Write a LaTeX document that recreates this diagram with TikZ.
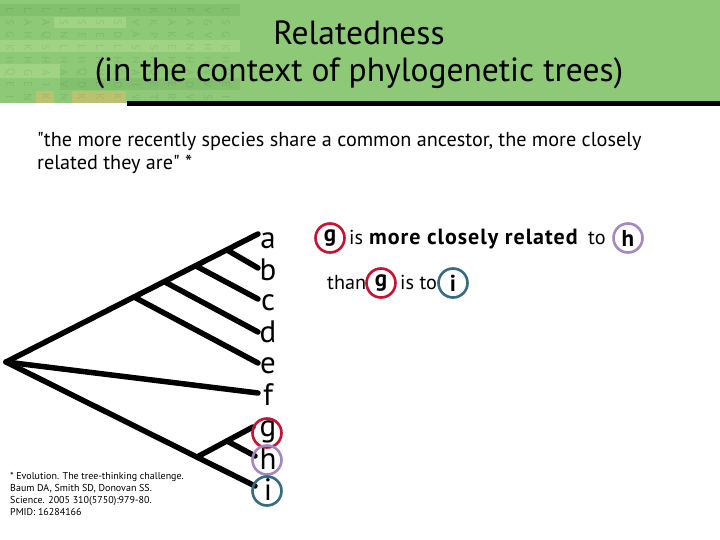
\documentclass[tikz,border=0pt]{standalone}
\usepackage{fontspec}
\setmainfont{PT Sans}
\definecolor{band}{RGB}{141,201,118}
\definecolor{bandlight}{RGB}{160,212,132}
\definecolor{banddark}{RGB}{130,192,110}
\definecolor{bandtan}{RGB}{186,194,112}
\definecolor{cred}{RGB}{200,18,48}
\definecolor{cpurple}{RGB}{165,135,195}
\definecolor{cteal}{RGB}{52,108,128}
\tikzset{
  branch/.style={line width=5.5pt, line cap=round},
  tiplabel/.style={anchor=base, font=\fontsize{31}{31}\selectfont, inner sep=0pt},
  ring/.style={circle, line width=2.6pt, minimum size=29pt, inner sep=0pt},
  gridletter/.style={font=\fontsize{11}{11}\selectfont, text=black, opacity=0.08, rotate=-90, inner sep=0pt},
  body/.style={anchor=base west, font=\fontsize{20.2}{23}\selectfont, inner sep=0pt},
  ringtext/.style={font=\fontsize{23}{23}\bfseries\selectfont},
  titletext/.style={font=\fontsize{33.5}{34}\selectfont, inner sep=0pt}
}
\begin{document}
\begin{tikzpicture}[x=1pt,y=-1pt]
\useasboundingbox (0,0) rectangle (720,540);
\fill[white] (0,0) rectangle (720,540);
% header band
\fill[band] (0,0) rectangle (720,103);
\fill[banddark] (0,4) rectangle (240,16);
\fill[bandlight] (0,40) rectangle (240,52);
\fill[bandlight] (54,17) rectangle (126,28);
\fill[bandlight] (0,64) rectangle (60,78);
\fill[bandtan] (36,91) rectangle (54,103);
\fill[bandtan] (72,91) rectangle (126,103);
\fill[banddark] (60,78) rectangle (240,90);
\foreach \row [count=\r] in {{L,L,L,L,L,L,L,F,K,F,F,V,L},{S,A,A,S,S,S,S,V,K,A,A,G,S},{G,H,Q,N,E,E,D,A,P,K,V,V,G},{K,K,S,L,L,L,L,S,S,E,N,H,K},{H,H,H,H,H,H,H,H,H,H,H,H,H},{Q,G,A,A,Q,V,Q,A,Q,G,A,V,Q},{E,E,I,V,D,E,D,I,E,E,D,V,E},{I,N,K,N,K,K,K,V,T,R,V,S,I}}{
  \foreach \ch [count=\c] in \row {
    \node[gridletter] at ({-8+18*\c},{-2+12.4*\r}) {\ch};
  }
}
\fill[black] (127,101) rectangle (720,106);
\node[titletext] (t1) at (359,33) {Relatedness};
\node[titletext] (t2) at (359,73) {(in the context of phylogenetic trees)};
% quote
\node[body] (q1) at (37,147) {\textquotedbl the more recently species share a common ancestor, the more closely};
\node[body] (q2) at (37,170) {related they are\textquotedbl{} *};
% tree
\coordinate (root) at (6,362);
\coordinate (nb) at (227,250);
\coordinate (nc) at (196,266);
\coordinate (nd) at (165,282);
\coordinate (ne) at (134,297);
\coordinate (ngh) at (197,457);
\coordinate (nh) at (227,441);
\coordinate (ta) at (258,234);
\coordinate (tb) at (258,268);
\coordinate (tc) at (258,299);
\coordinate (td) at (258,332);
\coordinate (te) at (258,363);
\coordinate (tf) at (258,393);
\coordinate (tg) at (253,427);
\coordinate (th) at (255,456);
\coordinate (ti) at (255,486);
\draw[branch] (root) -- (ta);
\draw[branch] (nb) -- (tb);
\draw[branch] (nc) -- (tc);
\draw[branch] (nd) -- (td);
\draw[branch] (ne) -- (te);
\draw[branch] (root) -- (tf);
\draw[branch] (root) -- (ti);
\draw[branch] (ngh) -- (tg);
\draw[branch] (nh) -- (th);
\node[tiplabel] (la) at (268,248) {a};
\node[tiplabel] (lb) at (268,280) {b};
\node[tiplabel] (lc) at (268,310) {c};
\node[tiplabel] (ld) at (268,342) {d};
\node[tiplabel] (le) at (268,373) {e};
\node[tiplabel] (lf) at (268,405) {f};
\node[tiplabel] (lg) at (268,436) {g};
\node[tiplabel] (lh) at (268,469) {h};
\node[tiplabel] (li) at (268,500) {i};
\node[ring, draw=cred] (cg) at (267,433) {};
\node[ring, draw=cpurple] (ch) at (267,460) {};
\node[ring, draw=cteal] (ci) at (267,491) {};
% statement
\node[ring, draw=cred, ringtext] (g1) at (330,238) {g};
\node[body] (s1) at (349,244) {is};
\node[body, font=\fontsize{22}{23}\bfseries\selectfont\addfontfeature{LetterSpace=4.5}] (s2) at (369,244) {more closely related};
\node[body] (s3) at (588,244) {to};
\node[ring, draw=cpurple, ringtext] (h1) at (628,238) {h};
\node[body] (s4) at (327,289) {than};
\node[ring, draw=cred, ringtext] (g2) at (381,283) {g};
\node[body] (s5) at (400,289) {is to};
\node[ring, draw=cteal, ringtext] (i1) at (453,283) {i};
% reference
\node[anchor=north west, align=left, font=\fontsize{10}{12}\selectfont, inner sep=0pt] (ref) at (10,472) {* Evolution. The tree-thinking challenge.\\Baum DA, Smith SD, Donovan SS.\\Science. 2005 310(5750):979-80.\\PMID: 16284166};
\end{tikzpicture}
\end{document}
